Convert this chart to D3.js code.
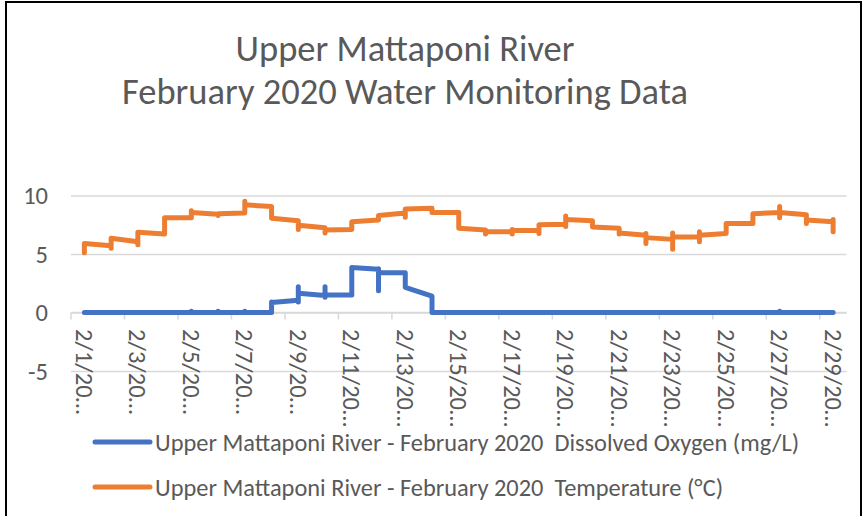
<!DOCTYPE html>
<html>
<head>
<meta charset="utf-8">
<script src="https://cdn.jsdelivr.net/npm/d3@7"></script>
<style>
  body { margin: 0; background: #fff; }
  svg { display: block; font-family: Carlito, Lato, "Open Sans", sans-serif; }
  .grid line { stroke: #d9d9d9; stroke-width: 1.5; }
  .grid .domain { display: none; }
  .axis text { fill: #595959; }
</style>
</head>
<body>
<svg width="866" height="516"></svg>
<script>
// categories: one per day of February 2020
const days = d3.range(1, 30).map(d => "2/" + d + "/2020");

// readings per day, in time order (several readings fall on one day)
const tempReadings = [
  [5.1, 5.9], [5.7, 5.5, 6.35], [6.05, 5.8, 6.85], [6.7, 8.1], [8.1, 8.7, 8.55],
  [8.4, 8.3, 8.45], [8.5, 9.5, 9.2], [9.05, 8.05], [7.85, 7.1, 7.45], [7.25, 6.8, 7.05],
  [7.1, 7.75], [7.9, 8.3], [8.5, 8.15, 8.85], [8.9, 8.55], [8.55, 7.2],
  [7.05, 6.7, 6.9], [6.9, 7.1, 6.7, 7.0], [7.0, 6.75, 7.5], [7.55, 7.35, 8.25, 7.95], [7.85, 7.3],
  [7.2, 6.7, 6.8], [6.6, 6.75, 5.9, 6.4], [6.25, 6.8, 5.4, 6.45], [6.45, 6.9, 6.05, 6.6], [6.75, 7.6],
  [7.6, 8.45], [8.55, 9.05, 8.1, 8.55], [8.35, 7.6, 7.9], [7.75, 7.95, 6.9]
];
const doReadings = [
  [0], [0], [0], [0], [0, 0.1, 0],
  [0, 0.1, 0], [0, 0.1, 0], [0, 0.9, 0.85], [1.05, 0.9, 2.2, 1.65], [1.45, 2.2, 1.3, 1.5],
  [1.5, 3.85], [3.7, 3.75, 1.85, 3.4], [3.4, 2.15], [1.4, 0], [0],
  [0], [0], [0], [0], [0],
  [0], [0], [0], [0], [0],
  [0], [0, 0.1, 0], [0], [0]
];

const yTicks = [-5, 0, 5, 10];
const titleLines = ["Upper Mattaponi River", "February 2020 Water Monitoring Data"];
const seriesNames = [
  "Upper Mattaponi River - February 2020  Dissolved Oxygen (mg/L)",
  "Upper Mattaponi River - February 2020  Temperature (°C)"
];
const colors = ["#4472c4", "#ed7d31"];

const svg = d3.select("svg");

// chart frame
svg.append("rect")
  .attr("x", 6).attr("y", 2)
  .attr("width", 855).attr("height", 530)
  .attr("fill", "none")
  .attr("stroke", "#000")
  .attr("stroke-width", 2);

// title
svg.append("g")
  .selectAll("text")
  .data(titleLines)
  .join("text")
  .attr("x", 405)
  .attr("y", (d, i) => 61 + i * 43)
  .attr("text-anchor", "middle")
  .attr("fill", "#595959")
  .attr("font-size", 36.5)
  .text(d => d);

// scales
const x = d3.scaleBand()
  .domain(days)
  .range([71, 846.5]);
const y = d3.scaleLinear()
  .domain([-5, 10])
  .range([371, 195.5]);
const xc = d => x(d) + x.bandwidth() / 2;

// gridlines
svg.append("g")
  .attr("class", "grid")
  .attr("transform", "translate(71,0)")
  .call(d3.axisLeft(y).tickValues(yTicks).tickSize(-775.5).tickFormat(""));

// y axis labels
svg.append("g")
  .attr("class", "axis")
  .selectAll("text")
  .data(yTicks)
  .join("text")
  .attr("x", 48)
  .attr("y", d => y(d))
  .attr("dy", "0.35em")
  .attr("text-anchor", "end")
  .attr("font-size", 24.5)
  .text(d => d);

// x axis line and tick marks (a tick every second day)
const xAxisG = svg.append("g").attr("class", "grid");
xAxisG.append("line")
  .attr("x1", 71).attr("x2", 846.5)
  .attr("y1", y(0)).attr("y2", y(0));
xAxisG.selectAll(".tk")
  .data(days.filter((d, i) => i % 2 === 0))
  .join("line")
  .attr("class", "tk")
  .attr("x1", d => x(d)).attr("x2", d => x(d))
  .attr("y1", y(0)).attr("y2", y(0) + 7);

// x axis labels, rotated and truncated
svg.append("g")
  .attr("class", "axis")
  .selectAll("text")
  .data(days.filter((d, i) => i % 2 === 0))
  .join("text")
  .attr("transform", d => "translate(" + xc(d) + ",329) rotate(90)")
  .attr("dy", "0.35em")
  .attr("font-size", 24.5)
  .text(d => d.replace(/20\d\d$/, "20…"));

// lines
function points(readings) {
  const pts = [];
  readings.forEach((vals, i) => vals.forEach(v => pts.push([days[i], v])));
  return pts;
}
const line = d3.line()
  .x(d => xc(d[0]))
  .y(d => y(d[1]));

[doReadings, tempReadings].forEach((r, i) => {
  svg.append("path")
    .attr("d", line(points(r)))
    .attr("fill", "none")
    .attr("stroke", colors[i])
    .attr("stroke-width", 5)
    .attr("stroke-linejoin", "round")
    .attr("stroke-linecap", "round");
});

// legend
const legend = svg.append("g")
  .selectAll("g")
  .data(seriesNames)
  .join("g")
  .attr("transform", (d, i) => "translate(0," + (442 + i * 45) + ")");
legend.append("line")
  .attr("x1", 95).attr("x2", 150)
  .attr("stroke", (d, i) => colors[i])
  .attr("stroke-width", 5)
  .attr("stroke-linecap", "round");
legend.append("text")
  .attr("x", 155)
  .attr("dy", "0.35em")
  .attr("fill", "#595959")
  .attr("font-size", 24.4)
  .style("white-space", "pre")
  .text(d => d);
</script>
</body>
</html>
